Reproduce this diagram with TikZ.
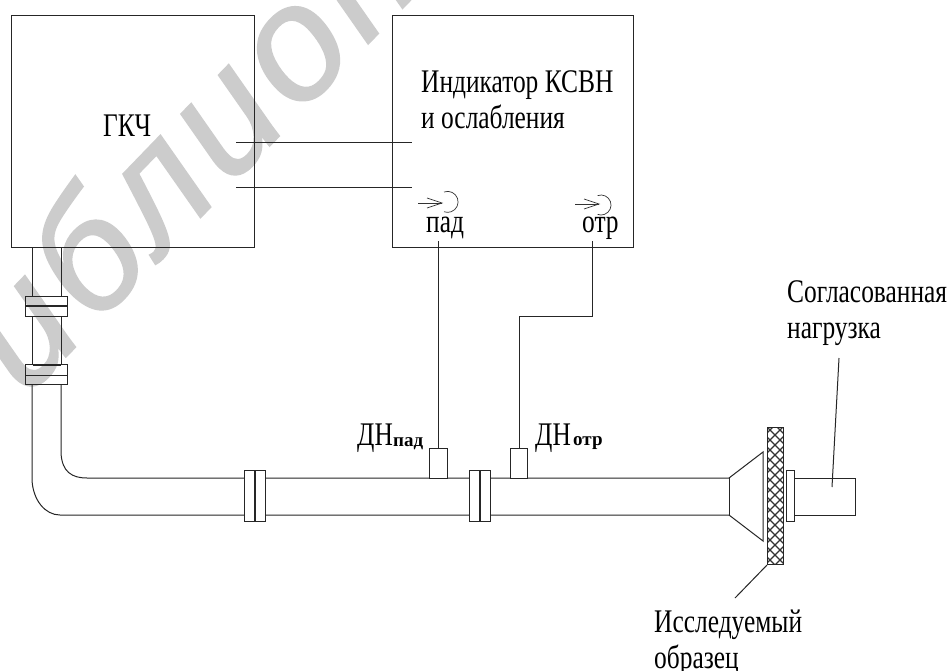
\documentclass[tikz,border=0pt]{standalone}
\usepackage{fontspec}
\setmainfont[FakeStretch=0.77]{Liberation Serif}
\newfontfamily\subfont{Liberation Serif}
\newfontfamily\markfont[LetterSpace=5,FakeBold=1.2]{Liberation Sans}
\usetikzlibrary{calc}

\tikzset{
	wire/.style={line width=1pt, color=black!85},
	thinwire/.style={line width=0.7pt, color=black!80},
	flange/.style={draw=black!85, line width=1pt},
	label/.style={font=\fontsize{33}{33}\selectfont, inner sep=0pt, anchor=base west},
	sublabel/.style={font=\subfont\bfseries\fontsize{19}{19}\selectfont, inner sep=0pt, anchor=base west},
	devbox/.style={draw=black!85, line width=1pt, inner sep=0pt, anchor=north west},
}

\begin{document}
\begin{tikzpicture}[x=1pt, y=-1pt]

		% === figure bounds ===
		\useasboundingbox (0,0) rectangle (949,670);
		\clip (0,0) rectangle (949,670);
		\fill[white] (0,0) rectangle (949,670);

		% === Watermark ===
		\node[rotate=46, color=black!20, font=\markfont\itshape\fontsize{162}{162}\selectfont, anchor=base west, inner sep=0pt] (mark) at (26,398) {иблиот};

		% === Devices ===
		\node[devbox, minimum width=243pt, minimum height=232pt] (gkch) at (11,15) {};
		\node[devbox, minimum width=241pt, minimum height=232pt] (ind) at (392,15) {};
		\node[label] (gkchtxt) at (103,136) {ГКЧ};
		\node[label] (indtxt) at (421,92) {Индикатор КСВН};
		\node[label] (osltxt) at (421,128) {и ослабления};

		% === Links between the devices ===
		\coordinate (ga) at (236,142);	\coordinate (ia) at (412,142);
		\coordinate (gb) at (236,187);	\coordinate (ib) at (412,187);
		\draw[wire] (ga) -- (ia);
		\draw[wire] (gb) -- (ib);

		% === Ports ===
		\draw[thinwire] (444,192) arc[start angle=-110, end angle=110, radius=10.5];
		\draw[thinwire] (597.6,195.6) arc[start angle=-110, end angle=110, radius=10];
		\foreach \x/\y in {418/203, 575/204} {
			\draw[thinwire] (\x,\y) -- ++(24,0);
			\draw[thinwire] (\x+9,\y-5) -- (\x+24,\y) -- (\x+9,\y+5);
		}
		\node[label] (padtxt) at (426,232) {пад};
		\node[label] (otrtxt) at (582,232) {отр};

		% === Waveguide ===
		\foreach \x in {32, 61} {
			\draw[wire] (\x,247) -- (\x,296);
			\draw[wire] (\x,316) -- (\x,364);
		}
		\draw[wire] (32,384) -- (32,480) .. controls (33,500) and (45,515) .. (60,515) -- (729,515);
		\draw[wire] (61,384) -- (61,453) .. controls (62,472) and (72,478) .. (87,478) -- (729,478);

		% === Flanges ===
		\foreach \y in {296, 364} {
			\draw[flange] (25,\y) rectangle (67,\y+20);
		}
		\draw[wire, line width=2pt] (25,306) -- (67,306);
		\draw[wire] (25,375) -- (67,375);
		\draw[wire, line width=1.6pt] (33,365) -- (61,365);
		\foreach \x in {255, 480} {
			\draw[flange, fill=white] (\x-10.5,470) rectangle (\x+10.5,521.5);
			\draw[wire, line width=1.8pt] (\x,470) -- (\x,521.5);
		}

		% === Detectors ===
		\node[devbox, fill=white, minimum width=18pt, minimum height=30pt] (dpad) at (429,448) {};
		\node[devbox, fill=white, minimum width=17pt, minimum height=30pt] (dotr) at (510,448) {};
		\coordinate (ppad) at (438,241);
		\coordinate (potr) at (592,241);
		\coordinate (pturn) at (592,316);
		\draw[wire] (ppad) -- (ppad |- dpad.north);
		\draw[wire] (potr) -- (pturn) -- (pturn -| dotr.north) -- (dotr.north);
		\node[label] (dnpad) at (357,445) {ДН};
		\node[sublabel] (dnpadsub) at (393,446) {пад};
		\node[label] (dnotr) at (535,445) {ДН};
		\node[sublabel] (dnotrsub) at (573,445) {отр};

		% === Horn, sample and load ===
		\draw[wire] (729,478) -- (729,515);
		\draw[wire] (729,478) -- (763,452) -- (763,541) -- (729,515);
		\begin{scope}
			\clip (767,427) rectangle (783,564);
			\foreach \k in {0,10,...,170} {
				\draw[black!80, line width=1.1pt] (760,410+\k) -- ++(30,30);
				\draw[black!80, line width=1.1pt] (790,410+\k) -- ++(-30,30);
			}
		\end{scope}
		\node[devbox, minimum width=16pt, minimum height=137pt] (sample) at (767,427) {};
		\node[devbox, fill=white, minimum width=8pt, minimum height=51pt] (fload) at (786,470) {};
		\node[devbox, minimum width=61pt, minimum height=37pt] (load) at (794,478) {};

		% === Leaders ===
		\coordinate (loadtip) at (832,487);
		\coordinate (loadend) at (839,358);
		\coordinate (sampend) at (735,598);
		\draw[wire] (loadtip) -- (loadend);
		\draw[wire] (sample.south west) -- (sampend);
		\node[label] (loadtxta) at (787,302) {Согласованная};
		\node[label] (loadtxtb) at (787,338) {нагрузка};
		\node[label] (samptxta) at (654,632) {Исследуемый};
		\node[label] (samptxtb) at (654,668) {образец};
	\end{tikzpicture}
\end{document}
